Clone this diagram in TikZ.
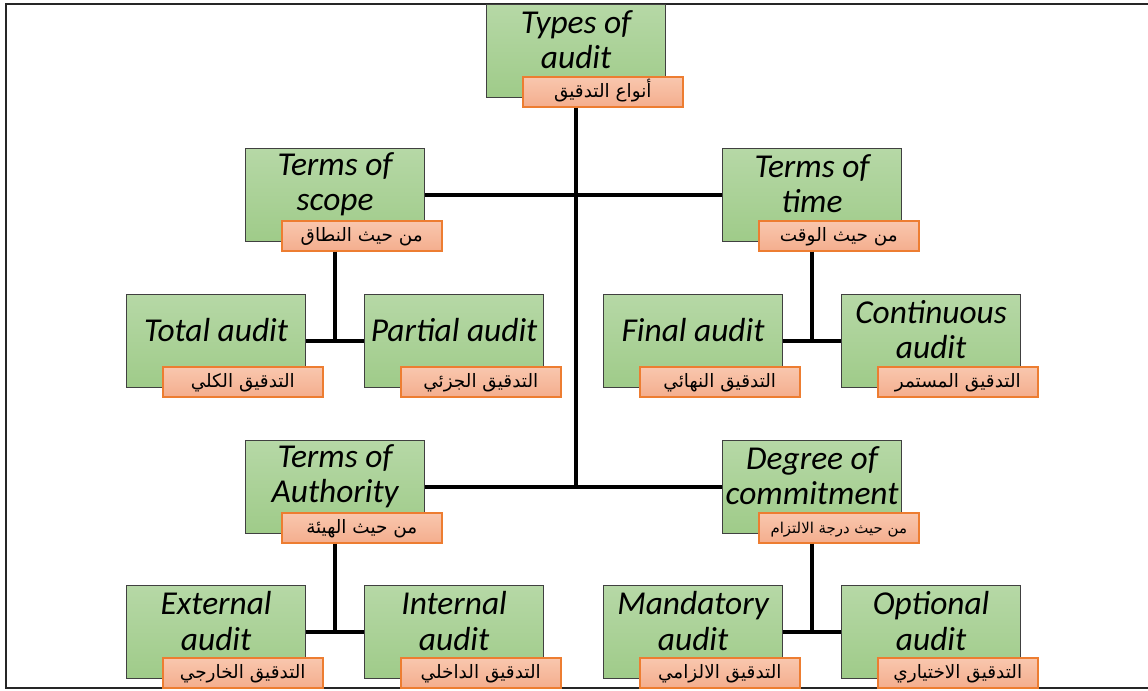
\documentclass[tikz,border=0pt]{standalone}
\usepackage{fontspec}
\setmainfont{Carlito}
\newfontfamily\arabicfont[Script=Arabic]{DejaVu Sans}
\TeXXeTstate=1
\usetikzlibrary{calc}

\definecolor{greenTop}{HTML}{B6D8A6}
\definecolor{greenBot}{HTML}{9FCB89}
\definecolor{greenEdge}{HTML}{404040}
\definecolor{tagTop}{HTML}{F9C7AE}
\definecolor{tagBot}{HTML}{F4AE8E}
\definecolor{tagEdge}{HTML}{ED7D31}

\tikzset{
  topicbox/.style={draw=greenEdge, line width=0.7pt, top color=greenTop,
    bottom color=greenBot, minimum width=3.58cm, minimum height=1.86cm,
    inner sep=0pt, anchor=north west},
  topictext/.style={font=\fontsize{19}{20}\selectfont\itshape,
    align=center, inner sep=0pt},
  tagbox/.style={draw=tagEdge, line width=0.9pt, top color=tagTop,
    bottom color=tagBot, minimum width=3.2cm, minimum height=0.6cm,
    inner sep=0pt, anchor=north west, text height=8.5pt, text depth=1.5pt,
    font=\arabicfont\fontsize{10.5}{12}\selectfont},
  link/.style={line width=2.3pt, black},
  frameline/.style={line width=1.3pt, black!85}
}

% #1 name, #2 left x, #3 top y, #4 English title, #5 Arabic caption
\newcommand\auditunit[5]{%
  \node[topicbox] (#1) at (#2,#3) {};
  \node[topictext] (#1-txt) at ($(#1.north)+(0,36)$) {#4};
  \node[tagbox] (#1-tag) at (#2+36,#3+72) {#5};
}

\begin{document}
\begin{tikzpicture}[x=0.02cm, y=-0.02cm]
  \useasboundingbox (0,0) rectangle (1148,690);

  % outer frame (open on the right)
  \draw[frameline] (1148,4) -- (6,4) -- (6,688) -- (1148,688);

  % root
  \auditunit{types}{486}{4}{Types of\\audit}{\beginR أنواع التدقيق\endR}

  % classification criteria
  \auditunit{scope}{245}{148}{Terms of\\scope}{\beginR من حيث النطاق\endR}
  \auditunit{time}{722}{148}{Terms of\\time}{\beginR من حيث الوقت\endR}
  \auditunit{authority}{245}{440}{Terms of\\Authority}{\beginR من حيث الهيئة\endR}
  \auditunit{commit}{722}{440}{Degree of\\commitment}{\fontsize{8.5}{10}\selectfont\beginR من حيث درجة الالتزام\endR}

  % audit kinds
  \auditunit{total}{126}{294}{Total audit}{\beginR التدقيق الكلي\endR}
  \auditunit{partial}{364}{294}{Partial audit}{\beginR التدقيق الجزئي\endR}
  \auditunit{final}{603}{294}{Final audit}{\beginR التدقيق النهائي\endR}
  \auditunit{continuous}{841}{294}{Continuous\\audit}{\beginR التدقيق المستمر\endR}
  \auditunit{external}{126}{585}{External\\audit}{\beginR التدقيق الخارجي\endR}
  \auditunit{internal}{364}{585}{Internal\\audit}{\beginR التدقيق الداخلي\endR}
  \auditunit{mandatory}{603}{585}{Mandatory\\audit}{\beginR التدقيق الالزامي\endR}
  \auditunit{optional}{841}{585}{Optional\\audit}{\beginR التدقيق الاختياري\endR}

  % connectors
  \draw[link] (types.center |- types-tag.south) -- (types.center |- authority.east);
  \draw[link] (scope.east) -- (time.west);
  \draw[link] (authority.east) -- (commit.west);

  \draw[link] (scope.center |- scope-tag.south) -- (scope.center |- total.east);
  \draw[link] (total.east) -- (partial.west);
  \draw[link] (time.center |- time-tag.south) -- (time.center |- final.east);
  \draw[link] (final.east) -- (continuous.west);

  \draw[link] (authority.center |- authority-tag.south) -- (authority.center |- external.east);
  \draw[link] (external.east) -- (internal.west);
  \draw[link] (commit.center |- commit-tag.south) -- (commit.center |- mandatory.east);
  \draw[link] (mandatory.east) -- (optional.west);
\end{tikzpicture}
\end{document}
